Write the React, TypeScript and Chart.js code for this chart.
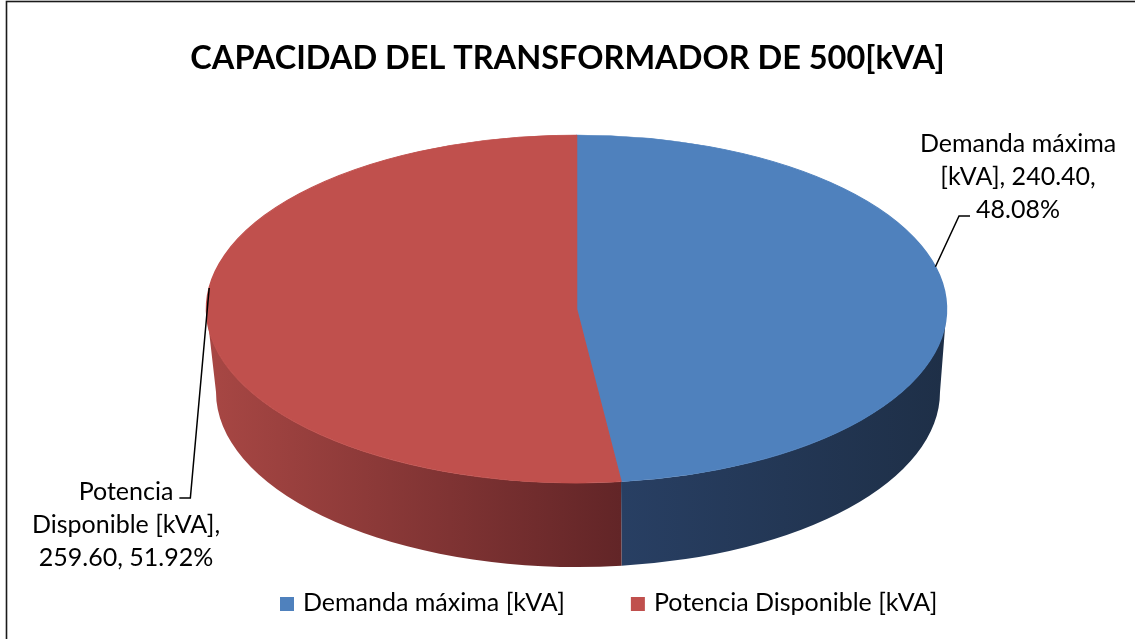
import React, { useEffect, useRef } from "react";
import { Chart, registerables } from "chart.js";

Chart.register(...registerables);

// ---------- data ----------
const TITLE = "CAPACIDAD DEL TRANSFORMADOR DE 500[kVA]";
const categories = ["Demanda máxima [kVA]", "Potencia Disponible [kVA]"];
const values = [240.4, 259.6];

// ---------- styles ----------
const topColors = ["#4F81BD", "#C0504D"];
const sideGradients = [
  ["#283f63", "#1e2f47"],
  ["#a84744", "#622527"],
];
const FONT = "Lato";
const W = 1135;
const H = 639;
// ellipse geometry of the 3D pie (top face and bottom rim)
const TOP = { cx: 576.5, cy: 309, rx: 370, ry: 174 };
const BOT = { cx: 578, cy: 392, rx: 362, ry: 175 };
// data label placement
const LABEL_FONT_SIZE = 25;
const LABEL_LINE = 33;
const LABEL_MAXW = 202;
const LABEL_POS = [
  { x: 1018, y: 152, attach: "lastLeft", leaderOffset: -0.185 },
  { x: 126, y: 500, attach: "firstRight", leaderOffset: 0.181 },
];
const LEGEND = { x: 280, y: 597, box: 14, gap: 9, itemGap: 66, baseline: 611, size: 25 };

function wrap(ctx: CanvasRenderingContext2D, text: string, maxW: number): string[] {
  const words = text.split(" ");
  const lines: string[] = [];
  let cur = "";
  for (const w of words) {
    const test = cur ? cur + " " + w : w;
    if (cur && ctx.measureText(test).width > maxW) {
      lines.push(cur);
      cur = w;
    } else cur = test;
  }
  if (cur) lines.push(cur);
  return lines;
}

const pie3d = {
  id: "pie3d",
  beforeDatasetsDraw(chart: any) {
    const ctx: CanvasRenderingContext2D = chart.ctx;
    const meta = chart.getDatasetMeta(0);
    // sides
    meta.data.forEach((arc: any, i: number) => {
      const { startAngle: s, endAngle: e } = arc.getProps(["startAngle", "endAngle"], true);
      const ranges: [number, number][] = [];
      for (const k of [-2, 0, 2]) {
        const lo = k * Math.PI, hi = lo + Math.PI;
        const a = Math.max(s, lo), b = Math.min(e, hi);
        if (a < b) ranges.push([a - lo, b - lo]);
      }
      for (const [a, b] of ranges) {
        const xa = TOP.cx + TOP.rx * Math.cos(b);
        const xb = TOP.cx + TOP.rx * Math.cos(a);
        const [c1, c2] = sideGradients[i];
        let g: CanvasGradient;
        if (i === 1) {
          g = ctx.createLinearGradient(Math.min(xa, xb), 0, Math.max(xa, xb), 0);
        } else {
          g = ctx.createLinearGradient(Math.min(xa, xb), 0, Math.max(xa, xb), 0);
        }
        g.addColorStop(0, c1);
        g.addColorStop(1, c2);
        ctx.save();
        ctx.beginPath();
        ctx.ellipse(TOP.cx, TOP.cy, TOP.rx, TOP.ry, 0, a, b, false);
        ctx.lineTo(BOT.cx + BOT.rx * Math.cos(b), BOT.cy + BOT.ry * Math.sin(b));
        ctx.ellipse(BOT.cx, BOT.cy, BOT.rx, BOT.ry, 0, b, a, true);
        ctx.closePath();
        ctx.fillStyle = g;
        ctx.fill();
        ctx.restore();
      }
    });
    // squash the library's pie into the top ellipse
    const a0 = meta.data[0];
    const { x, y, outerRadius } = a0.getProps(["x", "y", "outerRadius"], true);
    ctx.save();
    ctx.translate(TOP.cx, TOP.cy);
    ctx.scale(TOP.rx / outerRadius, TOP.ry / outerRadius);
    ctx.translate(-x, -y);
  },
  afterDatasetsDraw(chart: any) {
    const ctx: CanvasRenderingContext2D = chart.ctx;
    ctx.restore();
    const meta = chart.getDatasetMeta(0);
    const data: number[] = chart.data.datasets[0].data;
    const total = data.reduce((p, c) => p + c, 0);
    ctx.save();
    ctx.font = `${LABEL_FONT_SIZE}px ${FONT}`;
    ctx.fillStyle = "#000";
    ctx.textAlign = "center";
    ctx.textBaseline = "alphabetic";
    meta.data.forEach((arc: any, i: number) => {
      const { startAngle: s, endAngle: e } = arc.getProps(["startAngle", "endAngle"], true);
      const pos = LABEL_POS[i];
      const text = `${chart.data.labels[i]}, ${data[i].toFixed(2)}, ${((data[i] / total) * 100).toFixed(2)}%`;
      const lines = wrap(ctx, text, LABEL_MAXW);
      lines.forEach((ln, k) => ctx.fillText(ln, pos.x, pos.y + k * LABEL_LINE));
      const t = (s + e) / 2 + pos.leaderOffset;
      const sx = TOP.cx + TOP.rx * Math.cos(t);
      const sy = TOP.cy + TOP.ry * Math.sin(t);
      let ex1: number, ex2: number, ey: number;
      if (pos.attach === "lastLeft") {
        const li = lines.length - 1;
        const w = ctx.measureText(lines[li]).width;
        const left = pos.x - w / 2;
        ey = pos.y + li * LABEL_LINE - 2;
        ex1 = left - 17;
        ex2 = left - 6;
      } else {
        const w = ctx.measureText(lines[0]).width;
        const right = pos.x + w / 2;
        ey = pos.y - 2;
        ex1 = right + 17;
        ex2 = right + 6;
      }
      ctx.beginPath();
      ctx.moveTo(sx, sy);
      ctx.lineTo(ex1, ey);
      ctx.lineTo(ex2, ey);
      ctx.strokeStyle = "#000";
      ctx.lineWidth = 1.5;
      ctx.stroke();
    });
    ctx.restore();
  },
  afterDraw(chart: any) {
    const ctx: CanvasRenderingContext2D = chart.ctx;
    ctx.save();
    // legend
    ctx.font = `${LEGEND.size}px ${FONT}`;
    ctx.textBaseline = "alphabetic";
    ctx.textAlign = "left";
    let x = LEGEND.x;
    (chart.data.labels as string[]).forEach((lab, i) => {
      ctx.fillStyle = topColors[i];
      ctx.fillRect(x, LEGEND.y, LEGEND.box, LEGEND.box);
      ctx.fillStyle = "#000";
      const tx = x + LEGEND.box + LEGEND.gap;
      ctx.fillText(lab, tx, LEGEND.baseline);
      x = tx + ctx.measureText(lab).width + LEGEND.itemGap;
    });
    // frame
    ctx.strokeStyle = "#1a1a1a";
    ctx.lineWidth = 1.6;
    ctx.strokeRect(6.5, 1.5, W + 40, H + 40);
    ctx.restore();
  },
};

export default function App() {
  const ref = useRef<HTMLCanvasElement>(null);
  useEffect(() => {
    document.body.style.margin = "0";
    const chart = new Chart(ref.current!, {
      type: "pie",
      data: {
        labels: categories,
        datasets: [
          {
            data: values,
            backgroundColor: topColors,
            borderColor: topColors,
            borderWidth: 1,
            clip: false as any,
          } as any,
        ],
      },
      options: {
        responsive: false,
        animation: false,
        layout: { padding: { top: 0, bottom: 60, left: 0, right: 0 } },
        plugins: {
          title: {
            display: true,
            text: TITLE,
            color: "#000",
            font: { family: FONT, size: 32.5, weight: "bold" },
            padding: { top: 39, bottom: 20 },
          },
          legend: { display: false },
          tooltip: { enabled: false },
        },
      },
      plugins: [pie3d],
    });
    return () => chart.destroy();
  }, []);
  return (
    <div style={{ width: W, height: H, background: "#fff" }}>
      <canvas ref={ref} width={W} height={H} style={{ display: "block" }} />
    </div>
  );
}
